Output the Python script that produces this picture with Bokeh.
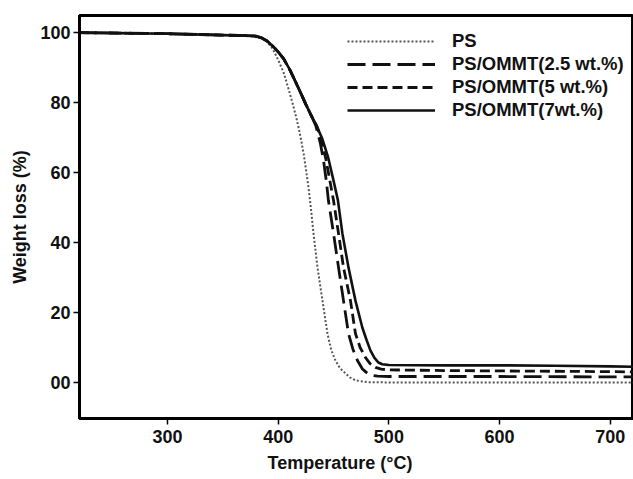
from bokeh.plotting import figure
from bokeh.models import Range1d, FixedTicker, Legend, LegendItem, Title
from bokeh.embed import file_html
from bokeh.resources import INLINE

# Data (Temperature in °C, Weight loss in %)
t_ps = [220, 300, 350, 375, 385, 390, 395, 400, 405, 409, 413, 417, 420, 423, 425.5,
        427.4, 429.5, 431.9, 435.5, 440, 444.5, 448, 451.7, 456, 460.8, 465, 470, 480,
        500, 600, 700, 721]
w_ps = [100, 99.7, 99.3, 99.0, 98.4, 97.4, 95.4, 92.2, 88.5, 84.3, 79.8, 74.9, 70.5, 65.4,
        60, 55.7, 50, 42.6, 32.9, 23.4, 14, 9.2, 6.3, 4.0, 2.6, 1.4, 0.6, 0.1,
        0, 0, 0, 0]

t_25 = [220, 300, 350, 375, 380, 385, 390, 395, 400, 405, 410, 415, 420, 425, 430, 434,
        438, 441, 443.5, 445.4, 450, 454.5, 459, 463.5, 467.5, 471.6, 476, 480.7, 485,
        490, 500, 600, 700, 721]
w_25 = [100, 99.7, 99.3, 99.1, 99.0, 98.5, 97.6, 96.2, 94.5, 92.5, 89.7, 86.4, 83.0, 79.5,
        76.2, 73.4, 68.5, 63.4, 57.5, 52, 42.6, 32.9, 23.4, 14, 9.5, 6.3, 3.9, 2.6, 2.0,
        1.8, 1.7, 1.7, 1.6, 1.6]

t_5 = [220, 300, 350, 375, 380, 385, 390, 395, 400, 405, 410, 415, 420, 425, 430, 435,
       439, 443, 446.5, 450, 454.5, 459, 465.3, 469.8, 474, 478.9, 483, 487.9, 493, 500,
       550, 600, 650, 700, 721]
w_5 = [100, 99.7, 99.3, 99.1, 99.0, 98.5, 97.6, 96.2, 94.5, 92.5, 89.7, 86.4, 83.0, 79.5,
       76.2, 73.2, 69.5, 64, 58, 52, 42.6, 32.9, 23.4, 14, 10.0, 7.1, 5.4, 4.3, 3.8, 3.6,
       3.4, 3.3, 3.2, 3.1, 3.0]

t_7 = [220, 300, 350, 375, 380, 385, 390, 395, 400, 405, 410, 415, 420, 425, 430, 435,
       440, 445, 450, 454, 458, 463.5, 469.8, 476, 480, 483.4, 487, 490.6, 494, 500, 550,
       600, 650, 700, 721]
w_7 = [100, 99.7, 99.3, 99.1, 99.0, 98.5, 97.6, 96.2, 94.5, 92.5, 89.7, 86.4, 83.0, 79.5,
       76.2, 73.2, 69.5, 64.5, 57.7, 52, 42.6, 32.9, 23.4, 15.7, 12.0, 9.1, 7.0, 5.7, 5.2,
       5.0, 4.9, 4.9, 4.8, 4.6, 4.5]

labels = ["PS", "PS/OMMT(2.5 wt.%)", "PS/OMMT(5 wt.%)", "PS/OMMT(7wt.%)"]
x_ticks = [300, 400, 500, 600, 700]
y_ticks = [0, 20, 40, 60, 80, 100]
y_tick_labels = {0: "00"}
x_title = "Temperature (°C)"
y_title = "Weight loss (%)"

FONT = "Liberation Sans"

p = figure(width=633, height=479, output_backend="svg", toolbar_location=None,
           x_range=Range1d(220.5, 721), y_range=Range1d(-10.3, 104.9),
           min_border_left=79, min_border_top=15, min_border_bottom=61, min_border_right=0)
p.background_fill_color = "white"
p.border_fill_color = "white"
p.outline_line_color = "black"
p.outline_line_width = 3
p.xgrid.visible = False
p.ygrid.visible = False

r_ps = p.line(t_ps, w_ps, line_color="#555555", line_width=2, line_dash="2 2")
r_25 = p.line(t_25, w_25, line_color="#111111", line_width=2.8, line_dash="18 7")
r_5 = p.line(t_5, w_5, line_color="#111111", line_width=2.8, line_dash="10 5")
r_7 = p.line(t_7, w_7, line_color="#111111", line_width=2.6)

for ax in (p.xaxis[0], p.yaxis[0]):
    ax.axis_line_width = 3
    ax.axis_line_color = "black"
    ax.major_tick_line_width = 1.5
    ax.major_tick_in = 0
    ax.major_tick_out = 6
    ax.minor_tick_line_color = None
    ax.major_label_text_font = FONT
    ax.major_label_text_font_style = "bold"
    ax.major_label_text_font_size = "18px"
    ax.major_label_text_color = "#111111"
    ax.axis_label_text_font = FONT
    ax.axis_label_text_font_style = "bold"
    ax.axis_label_text_font_size = "18px"
    ax.axis_label_text_color = "#111111"

p.xaxis.ticker = FixedTicker(ticks=x_ticks)
p.yaxis.ticker = FixedTicker(ticks=y_ticks)
p.yaxis.major_label_overrides = y_tick_labels
p.yaxis.axis_label = y_title
p.xaxis.major_label_standoff = 5
p.yaxis.major_label_standoff = 3
p.yaxis.axis_label_standoff = 7

xt = Title(text=x_title, align="left", offset=188, standoff=10,
           text_font=FONT, text_font_style="bold", text_font_size="18px",
           text_color="#111111")
p.add_layout(xt, "below")

legend = Legend(items=[LegendItem(label=l, renderers=[r]) for l, r in
                       zip(labels, [r_ps, r_25, r_5, r_7])],
                location=(268, 297), orientation="vertical")
legend.glyph_width = 88
legend.glyph_height = 22
legend.label_height = 22
legend.spacing = 1
legend.label_standoff = 17
legend.padding = 0
legend.margin = 0
legend.border_line_color = None
legend.background_fill_alpha = 0
legend.label_text_font = FONT
legend.label_text_font_style = "bold"
legend.label_text_font_size = "18.5px"
legend.label_text_color = "#111111"
p.add_layout(legend)

open("out.html", "w").write(file_html(p, INLINE))
